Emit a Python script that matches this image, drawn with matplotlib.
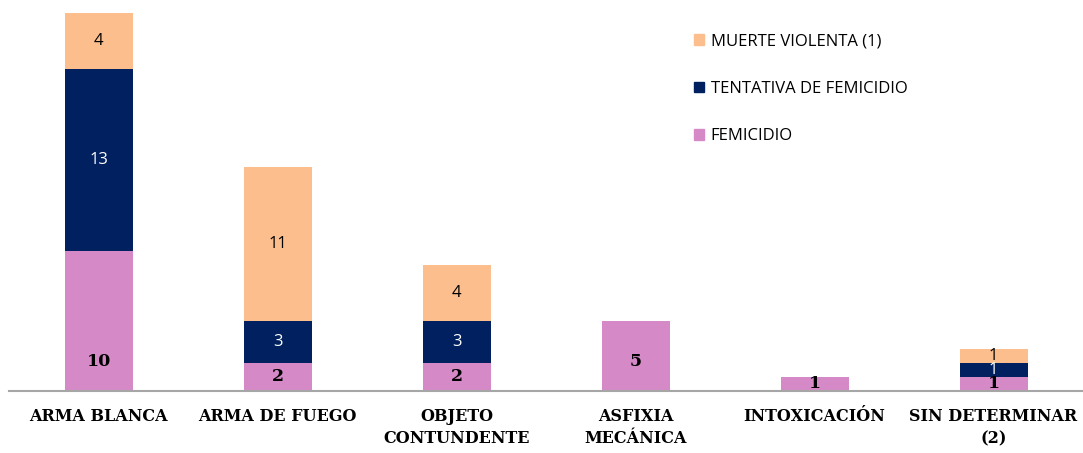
import matplotlib.pyplot as plt
from matplotlib.patches import Patch

categories = ["ARMA BLANCA", "ARMA DE FUEGO", "OBJETO\nCONTUNDENTE",
              "ASFIXIA\nMECÁNICA", "INTOXICACIÓN", "SIN DETERMINAR\n(2)"]
femicidio = [10, 2, 2, 5, 1, 1]
tentativa = [13, 3, 3, 0, 0, 1]
muerte = [4, 11, 4, 0, 0, 1]

c_fem = "#D58AC7"
c_ten = "#00205F"
c_mue = "#FBBE8C"

fig = plt.figure(figsize=(10.83, 4.53), dpi=100)
ax = fig.add_axes([0.0086, 0.137, 0.9914, 0.85])

x = list(range(len(categories)))
w = 0.38
ax.bar(x, femicidio, w, color=c_fem)
ax.bar(x, tentativa, w, bottom=femicidio, color=c_ten)
base2 = [a + b for a, b in zip(femicidio, tentativa)]
ax.bar(x, muerte, w, bottom=base2, color=c_mue)

sans = "Open Sans"
for i in x:
    f, t, m = femicidio[i], tentativa[i], muerte[i]
    ax.text(i, min(f / 2, 2.1), str(f), ha="center", va="center",
            fontsize=12.5, fontweight="bold", family="DejaVu Serif", color="black")
    if t:
        ax.text(i, f + t / 2, str(t), ha="center", va="center",
                fontsize=12, family=sans, color="white")
    if m:
        ax.text(i, f + t + m / 2, str(m), ha="center", va="center",
                fontsize=12, family=sans, color="black")

ax.set_xlim(-0.5, 5.5)
ax.set_ylim(0, 27.5)
ax.set_yticks([])
ax.set_xticks(x)
ax.set_xticklabels(categories, fontsize=11.5, fontweight="bold",
                   family="DejaVu Serif", linespacing=1.45)
ax.tick_params(axis="x", length=0, pad=12)
for s in ["top", "right", "left"]:
    ax.spines[s].set_visible(False)
ax.spines["bottom"].set_color("#A6A6A6")
ax.spines["bottom"].set_linewidth(1.5)

handles = [Patch(color=c_mue), Patch(color=c_ten), Patch(color=c_fem)]
labels = ["MUERTE VIOLENTA (1)", "TENTATIVA DE FEMICIDIO", "FEMICIDIO"]
fig.legend(handles, labels, loc="upper left", bbox_to_anchor=(0.627, 0.96),
           frameon=False, prop={"family": sans, "size": 12},
           labelspacing=1.9, handlelength=0.6, handleheight=0.6,
           handletextpad=0.4)

fig.savefig("out.png", dpi=100)
